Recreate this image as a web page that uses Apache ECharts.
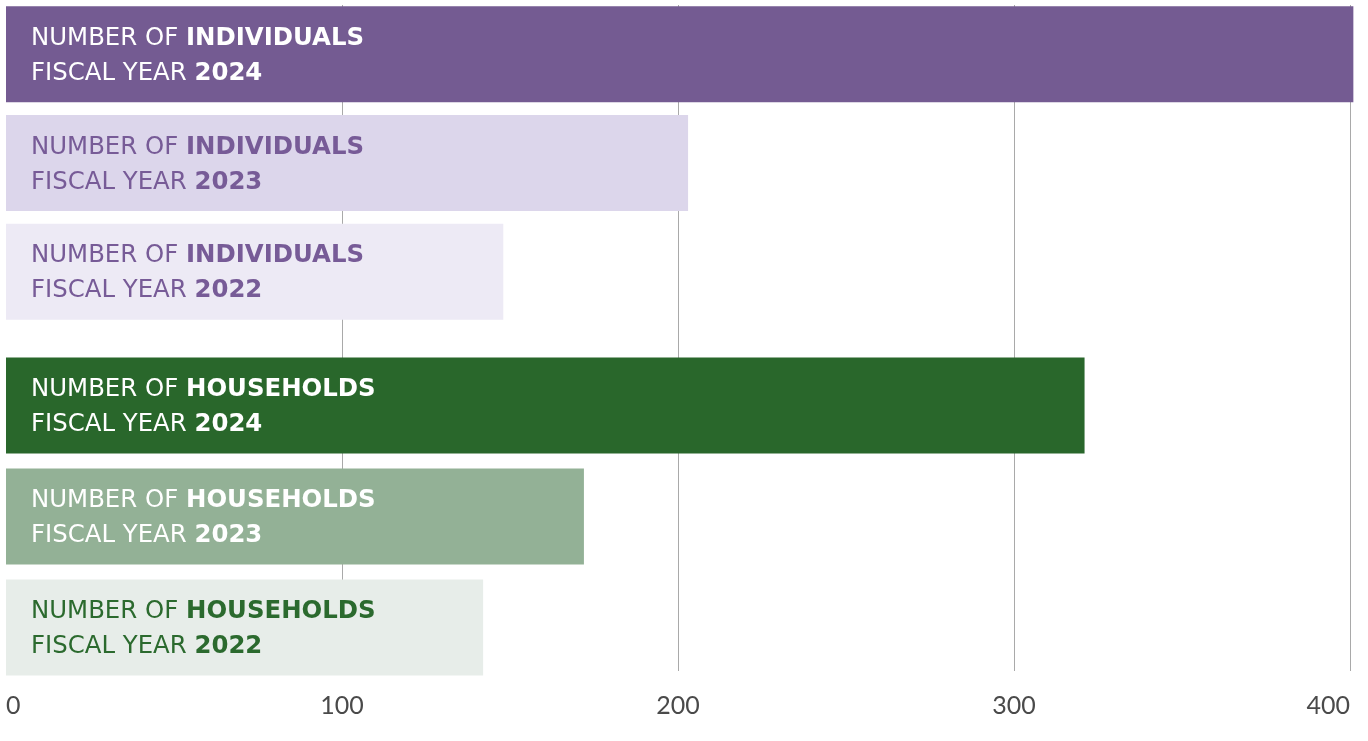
<!DOCTYPE html>
<html>
<head>
<meta charset="utf-8">
<script src="https://cdn.jsdelivr.net/npm/echarts@6/dist/echarts.min.js"></script>
<style>
  html, body { margin: 0; padding: 0; background: #fff; }
  #chart { width: 1368px; height: 741px; }
</style>
</head>
<body>
<div id="chart"></div>
<script>
// Values
const years = ['2024', '2023', '2022']
const individuals = [401, 203, 148]
const households = [321, 172, 142]
const ticks = [0, 100, 200, 300, 400]

const FONT = 'DejaVu Sans'

// bar fill / label colour per year
const purpleFill = ['#745b92', '#dcd6eb', '#edeaf5']
const purpleText = ['#ffffff', '#775b97', '#775b97']
const greenFill = ['#29672b', '#93b196', '#e7ede9']
const greenText = ['#ffffff', '#ffffff', '#2b6a2e']

function barItems(values, fills, texts) {
  return values.map((v, i) => ({
    value: v,
    itemStyle: { color: fills[i] },
    label: { color: texts[i] },
  }))
}

function barSeries(idx, group, values, fills, texts) {
  return {
    type: 'bar',
    xAxisIndex: idx,
    yAxisIndex: idx,
    barWidth: 96,
    clip: false,
    silent: true,
    data: barItems(values, fills, texts),
    label: {
      show: true,
      position: 'insideLeft',
      distance: 25,
      offset: [0, 2],
      lineHeight: 35,
      formatter: (p) => '{a|NUMBER OF }{b|' + group + '}\n{a|FISCAL YEAR }{b|' + years[p.dataIndex] + '}',
      rich: {
        a: { fontFamily: FONT, fontSize: 24.4, fontWeight: 'normal', lineHeight: 35 },
        b: { fontFamily: FONT, fontSize: 24.4, fontWeight: 'bold', lineHeight: 35 },
      },
    },
  }
}

const hiddenX = (idx) => ({
  type: 'value', gridIndex: idx, min: ticks[0], max: ticks[ticks.length - 1],
  show: false,
})
const catY = (idx) => ({
  type: 'category', gridIndex: idx, data: years, inverse: true, show: false,
})

const chart = echarts.init(document.getElementById('chart'))
chart.setOption({
  animation: false,
  grid: [
    { left: 6, right: 18, top: 5, bottom: 70 },
    { left: 6, right: 18, top: -4, height: 330 },
    { left: 6, right: 18, top: 350, height: 333 },
  ],
  xAxis: [
    {
      type: 'value', gridIndex: 0,
      min: ticks[0], max: ticks[ticks.length - 1], interval: 100,
      axisLine: { show: false },
      axisTick: { show: false },
      splitLine: {
        show: true,
        showMinLine: false,
        lineStyle: { color: '#a9a9a9', width: 1 },
      },
      axisLabel: {
        fontFamily: 'Lato', fontSize: 25, color: '#4a4a4a', margin: 22,
        alignMinLabel: 'left', alignMaxLabel: 'right',
      },
    },
    hiddenX(1),
    hiddenX(2),
  ],
  yAxis: [
    { type: 'category', gridIndex: 0, data: [''], show: false },
    catY(1),
    catY(2),
  ],
  series: [
    barSeries(1, 'INDIVIDUALS', individuals, purpleFill, purpleText),
    barSeries(2, 'HOUSEHOLDS', households, greenFill, greenText),
  ],
})
</script>
</body>
</html>
